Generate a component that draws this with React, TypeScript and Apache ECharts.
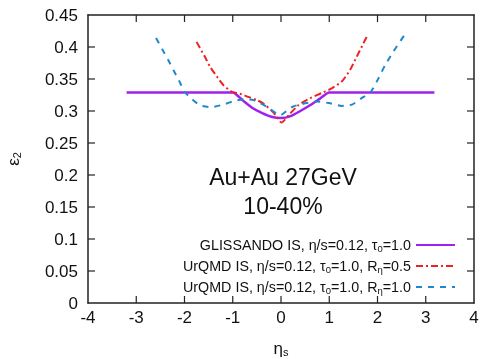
import React, { useEffect, useRef } from "react";
import * as echarts from "echarts";

// GLISSANDO IS, eta/s=0.12, tau0=1.0
const glissEta = [-3.2, -1.0, -0.8, -0.6, -0.4, -0.2, 0, 0.2, 0.4, 0.6, 0.8, 1.0, 3.18];
const glissEps = [0.329, 0.329, 0.317, 0.305, 0.297, 0.291, 0.289, 0.292, 0.3, 0.309, 0.319, 0.329, 0.329];

// UrQMD IS, R_eta = 0.5
const urqmd05Eta = [-1.75, -1.58, -1.47, -1.33, -1.2, -1.02, -0.85, -0.68, -0.5, -0.37, -0.16, 0.01, 0.19, 0.36, 0.6, 0.84, 1.02, 1.26, 1.43, 1.57, 1.71, 1.79];
const urqmd05Eps = [0.408, 0.385, 0.369, 0.354, 0.341, 0.33, 0.327, 0.322, 0.317, 0.312, 0.298, 0.282, 0.296, 0.309, 0.32, 0.328, 0.334, 0.346, 0.364, 0.385, 0.406, 0.418];

// UrQMD IS, R_eta = 1.0
const urqmd10Eta = [-2.59, -2.45, -2.34, -2.23, -2.11, -2.0, -1.85, -1.68, -1.44, -1.2, -0.95, -0.75, -0.57, -0.3, -0.09, 0, 0.08, 0.25, 0.5, 0.74, 1.02, 1.26, 1.47, 1.67, 1.86, 2.02, 2.16, 2.33, 2.57];
const urqmd10Eps = [0.414, 0.395, 0.38, 0.364, 0.347, 0.33, 0.319, 0.309, 0.306, 0.31, 0.316, 0.318, 0.317, 0.307, 0.296, 0.294, 0.298, 0.307, 0.312, 0.315, 0.312, 0.308, 0.31, 0.32, 0.33, 0.351, 0.372, 0.393, 0.42];

const xTicks = [-4, -3, -2, -1, 0, 1, 2, 3, 4];
const yTicks = [0, 0.05, 0.1, 0.15, 0.2, 0.25, 0.3, 0.35, 0.4, 0.45];

const seriesNames = ["GLISSANDO", "UrQMD05", "UrQMD10"];
const legendLabels = [
  "GLISSANDO IS, η/s=0.12, τ{sub|0}=1.0",
  "UrQMD IS, η/s=0.12, τ{sub|0}=1.0, R{sub|η}=0.5",
  "UrQMD IS, η/s=0.12, τ{sub|0}=1.0, R{sub|η}=1.0",
];
const titleLines = ["Au+Au 27GeV", "10-40%"];

const FONT = "Liberation Sans";
const pair = (xs: number[], ys: number[]) => xs.map((x, i) => [x, ys[i]]);

export default function App() {
  const ref = useRef<HTMLDivElement>(null);
  useEffect(() => {
    const chart = echarts.init(ref.current!, null, { renderer: "svg" });
    const mkLine = () => ({ show: true, onZero: false, lineStyle: { color: "#222", width: 1.5 } });
    const noTick = () => ({ show: false });
    const rich = {
      sub: { fontSize: 9.5, fontFamily: FONT, color: "#111", verticalAlign: "bottom", lineHeight: 12 },
    };
    const nameRich = { sub: { fontSize: 11, verticalAlign: "bottom", lineHeight: 14, fontFamily: FONT, color: "#111" } };
    const legendTops = [237, 258, 279];
    const xMin = xTicks[0], xMax = xTicks[xTicks.length - 1];
    const yMin = yTicks[0], yMax = yTicks[yTicks.length - 1];
    const common = { type: "value", splitLine: { show: false }, minorTick: { show: false } };
    const titleGraphics = [
      {
        type: "text", x: 283, y: 177,
        style: { text: titleLines[0], align: "center", verticalAlign: "middle", fontFamily: FONT, fontSize: 23, fill: "#111" },
      },
      {
        type: "text", x: 283, y: 206,
        style: { text: titleLines[1], align: "center", verticalAlign: "middle", fontFamily: FONT, fontSize: 23, fill: "#111" },
      },
    ];
    chart.setOption({
      animation: false,
      grid: { left: 88, right: 7, top: 15, bottom: 56, containLabel: false, outerBoundsMode: "none" },
      xAxis: [
        {
          ...common, min: xMin, max: xMax, interval: 1,
          axisLine: mkLine(), axisTick: noTick(),
          axisLabel: { color: "#111", fontFamily: FONT, fontSize: 17, margin: 6 },
          name: "η{sub|s}", nameLocation: "middle", nameGap: 37,
          nameTextStyle: { color: "#111", fontFamily: FONT, fontSize: 17, rich: nameRich },
        },
        {
          ...common, min: xMin, max: xMax, interval: 1, position: "top",
          axisLine: mkLine(), axisTick: noTick(), axisLabel: { show: false },
        },
      ],
      yAxis: [
        {
          ...common, min: yMin, max: yMax, interval: 0.05,
          axisLine: mkLine(), axisTick: noTick(),
          axisLabel: { color: "#111", fontFamily: FONT, fontSize: 17, margin: 10 },
          name: "ε{sub|2}", nameLocation: "middle", nameGap: 66, nameRotate: 90,
          nameTextStyle: { color: "#111", fontFamily: FONT, fontSize: 17, rich: nameRich },
        },
        {
          ...common, min: yMin, max: yMax, interval: 0.05, position: "right",
          axisLine: mkLine(), axisTick: noTick(), axisLabel: { show: false },
        },
      ],
      legend: seriesNames.map((n, i) => ({
        data: [n],
        right: 25,
        top: legendTops[i],
        padding: 0,
        align: "right",
        itemWidth: 39,
        itemHeight: 14,
        selectedMode: false,
        itemStyle: { opacity: 0 },
        formatter: () => legendLabels[i],
        textStyle: { fontFamily: FONT, fontSize: 14.3, color: "#111", lineHeight: 16, rich },
      })),
      graphic: titleGraphics,
      series: [
        {
          name: seriesNames[0], type: "line", data: pair(glissEta, glissEps), showSymbol: false, symbol: "none",
          lineStyle: { color: "#a020f0", width: 2.5 }, itemStyle: { color: "#a020f0" }, smooth: 0.2,
        },
        {
          name: seriesNames[1], type: "line", data: pair(urqmd05Eta, urqmd05Eps), showSymbol: false, symbol: "none",
          lineStyle: { color: "#ee2222", width: 2, type: [7, 3, 2, 3] }, itemStyle: { color: "#ee2222" }, smooth: 0.2,
        },
        {
          name: seriesNames[2], type: "line", data: pair(urqmd10Eta, urqmd10Eps), showSymbol: false, symbol: "none",
          xAxisIndex: 1, yAxisIndex: 1,
          lineStyle: { color: "#1e88cc", width: 2, type: [6, 6] }, itemStyle: { color: "#1e88cc" }, smooth: 0.2,
        },
      ],
    });

    // inward ticks on all four sides, positioned through the grid's own scales
    const TL = 7;
    const tickStyle = { stroke: "#222", lineWidth: 1.2 };
    const tickGraphics: any[] = [];
    const toPx = (x: number, y: number) => chart.convertToPixel({ gridIndex: 0 }, [x, y]) as number[];
    xTicks.slice(1, -1).forEach((v) => {
      const [px, pyB] = toPx(v, yMin);
      const [, pyT] = toPx(v, yMax);
      tickGraphics.push({ type: "line", silent: true, shape: { x1: px, y1: pyB, x2: px, y2: pyB - TL }, style: tickStyle });
      tickGraphics.push({ type: "line", silent: true, shape: { x1: px, y1: pyT, x2: px, y2: pyT + TL }, style: tickStyle });
    });
    yTicks.slice(1, -1).forEach((v) => {
      const [pxL, py] = toPx(xMin, v);
      const [pxR] = toPx(xMax, v);
      tickGraphics.push({ type: "line", silent: true, shape: { x1: pxL, y1: py, x2: pxL + TL, y2: py }, style: tickStyle });
      tickGraphics.push({ type: "line", silent: true, shape: { x1: pxR, y1: py, x2: pxR - TL, y2: py }, style: tickStyle });
    });
    chart.setOption({ graphic: [...titleGraphics, ...tickGraphics] });

    return () => chart.dispose();
  }, []);
  return <div ref={ref} style={{ position: "fixed", left: 0, top: 0, width: 481, height: 359 }} />;
}
